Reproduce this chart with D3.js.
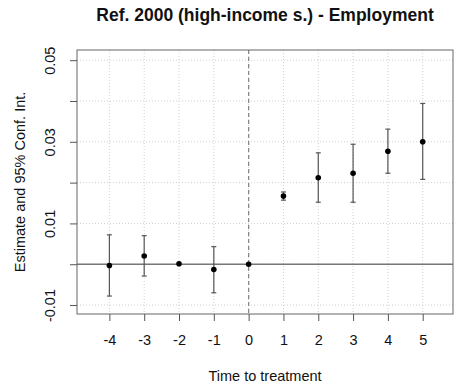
<!DOCTYPE html>
<html><head><meta charset="utf-8">
<script src="https://cdn.jsdelivr.net/npm/d3@7"></script>
<style>body{margin:0;background:#fff}svg{display:block;font-family:"Liberation Sans",Arial,sans-serif}</style>
</head><body><svg id="c" width="456" height="390"></svg>
<script>
const periods = [-4,-3,-2,-1,0,1,2,3,4,5];
const estimates = [-0.0003,0.0020,0.0001,-0.0013,0,0.0167,0.0212,0.0223,0.0277,0.0300];
const ciLow = [-0.0078,-0.0029,null,-0.0070,null,0.0157,0.0152,0.0152,0.0223,0.0208];
const ciHigh = [0.0072,0.0070,null,0.0043,null,0.0177,0.0273,0.0294,0.0331,0.0394];
const yTicks = [-0.01,0,0.01,0.02,0.03,0.04,0.05];
const yLabels = ["-0.01","0.01","0.03","0.05"];
const xTicks = [-4,-3,-2,-1,0,1,2,3,4,5];

const svg = d3.select("#c");
const L=77,R=453,T=50,B=314;
const x = d3.scaleLinear().domain([-4.93,5.87]).range([L,R]);
const y = d3.scaleLinear().domain([-0.0122,0.0525]).range([B,T]);
const FONT = "Liberation Sans, Arial, sans-serif";

// grid
const g = svg.append("g");
g.selectAll(".gx").data(xTicks).join("line")
 .attr("x1",d=>x(d)).attr("x2",d=>x(d)).attr("y1",T).attr("y2",B)
 .attr("stroke","#d0d0d0").attr("stroke-dasharray","1,2");
g.selectAll(".gy").data(yTicks).join("line")
 .attr("x1",L).attr("x2",R).attr("y1",d=>y(d)).attr("y2",d=>y(d))
 .attr("stroke","#d0d0d0").attr("stroke-dasharray","1,2");

// zero line
svg.append("line").attr("x1",L).attr("x2",R).attr("y1",y(0)).attr("y2",y(0))
 .attr("stroke","#777").attr("stroke-width",1.6);
// vertical dashed at 0
svg.append("line").attr("x1",x(0)).attr("x2",x(0)).attr("y1",T).attr("y2",B)
 .attr("stroke","#888").attr("stroke-width",1.3).attr("stroke-dasharray","4,3");

// error bars
const data = periods.map((p,i)=>({p,e:estimates[i],lo:ciLow[i],hi:ciHigh[i]}));
const eb = svg.append("g").selectAll("g").data(data.filter(d=>d.lo!==null)).join("g")
 .attr("stroke","#555").attr("stroke-width",1.2);
eb.append("line").attr("x1",d=>x(d.p)).attr("x2",d=>x(d.p)).attr("y1",d=>y(d.lo)).attr("y2",d=>y(d.hi));
eb.append("line").attr("x1",d=>x(d.p)-2.5).attr("x2",d=>x(d.p)+2.5).attr("y1",d=>y(d.lo)).attr("y2",d=>y(d.lo));
eb.append("line").attr("x1",d=>x(d.p)-2.5).attr("x2",d=>x(d.p)+2.5).attr("y1",d=>y(d.hi)).attr("y2",d=>y(d.hi));
svg.append("g").selectAll("circle").data(data).join("circle")
 .attr("cx",d=>x(d.p)).attr("cy",d=>y(d.e)).attr("r",2.8).attr("fill","#000");

// box
svg.append("rect").attr("x",L).attr("y",T).attr("width",R-L).attr("height",B-T)
 .attr("fill","none").attr("stroke","#666").attr("stroke-width",1);

// axes
const xa = svg.append("g").attr("transform",`translate(0,${B})`)
 .call(d3.axisBottom(x).tickValues(xTicks).tickSize(7).tickPadding(14).tickFormat(d=>String(d)));
xa.select(".domain").remove();
const ya = svg.append("g").attr("transform",`translate(${L},0)`)
 .call(d3.axisLeft(y).tickValues(yTicks).tickSize(7).tickFormat(d=>{const s=String(+d.toFixed(2)); return yLabels.includes(s)?s:"";}));
ya.select(".domain").remove();
svg.selectAll(".tick line").attr("stroke","#555");
xa.selectAll("text").attr("font-size",14.5).attr("fill","#111").attr("font-family",FONT);
ya.selectAll("text").attr("font-size",14.5).attr("fill","#111").attr("font-family",FONT)
 .attr("text-anchor","middle").attr("dy",0).attr("x",0).attr("dominant-baseline","middle")
 .attr("transform","translate(-26,0) rotate(-90)");

// titles
svg.append("text").attr("x",(L+R)/2).attr("y",21).attr("text-anchor","middle")
 .attr("font-size",17.5).attr("font-weight","bold").attr("fill","#111")
 .text("Ref. 2000 (high-income s.) - Employment");
svg.append("text").attr("x",(L+R)/2).attr("y",381).attr("text-anchor","middle")
 .attr("font-size",14.5).attr("fill","#111").text("Time to treatment");
svg.append("text").attr("transform",`translate(25,${(T+B)/2}) rotate(-90)`).attr("text-anchor","middle")
 .attr("font-size",14.5).attr("fill","#111").text("Estimate and 95% Conf. Int.");
</script></body></html>
